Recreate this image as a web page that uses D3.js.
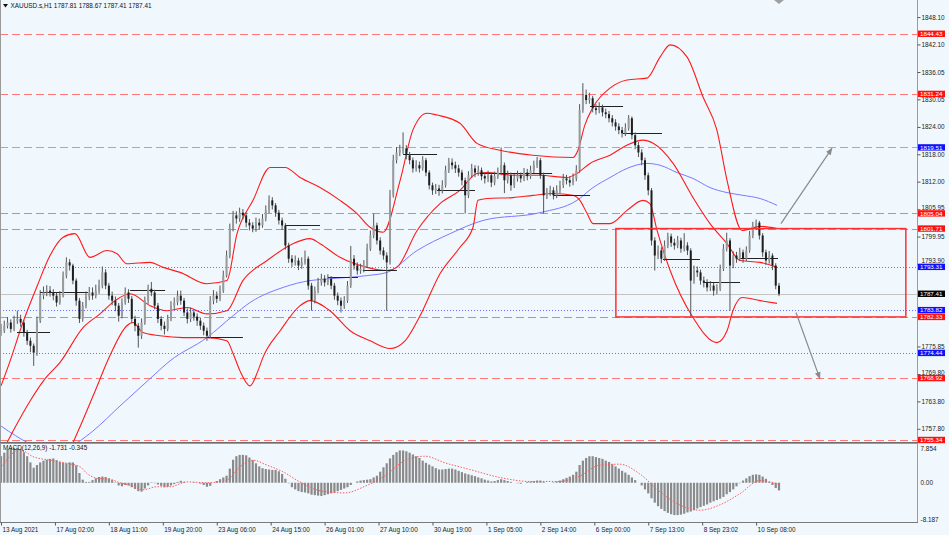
<!DOCTYPE html>
<html><head><meta charset="utf-8">
<script src="https://cdn.jsdelivr.net/npm/d3@7"></script>
<style>
html,body{margin:0;padding:0;background:#f0f8fe;}
svg{display:block;}
text{font-family:"Liberation Sans",Arial,sans-serif;}
</style></head><body>
<svg id="c" width="949" height="535"></svg>
<script>
// ---------- DATA ----------
const firstOpen = 1779.0;
const closes = [1779.3,1780.4,1781.1,1779.7,1781.5,1781.9,1781.1,1778.9,1777.1,1776.0,
1774.5,1781.5,1787.0,1787.7,1788.1,1787.7,1787.0,1785.5,1787.0,1791.4,
1794.3,1793.6,1790.3,1785.9,1781.9,1784.8,1786.8,1787.7,1787.0,1788.1,
1789.2,1792.1,1789.2,1787.0,1785.9,1784.8,1782.6,1785.5,1787.7,1786.3,
1781.9,1780.4,1778.2,1781.1,1785.9,1788.5,1787.7,1784.8,1781.9,1780.4,
1779.7,1781.9,1784.8,1785.5,1787.0,1785.9,1783.3,1781.9,1783.3,1782.4,
1781.5,1780.4,1779.3,1778.2,1785.9,1787.0,1786.3,1788.1,1791.4,1795.8,
1801.7,1804.6,1803.9,1805.2,1804.6,1803.0,1802.4,1801.7,1803.0,1802.4,
1803.9,1805.7,1807.9,1806.8,1805.2,1803.5,1802.4,1798.0,1795.1,1794.3,
1794.7,1793.6,1794.3,1795.1,1789.2,1785.9,1788.1,1789.9,1790.7,1789.9,
1790.7,1789.2,1787.0,1785.9,1784.8,1785.9,1789.2,1795.1,1793.6,1792.5,
1792.9,1793.6,1797.3,1800.2,1802.4,1799.1,1796.9,1795.8,1794.3,1809.0,
1816.7,1818.4,1818.9,1819.3,1817.8,1816.7,1814.9,1815.6,1814.9,1816.7,
1814.0,1811.2,1810.1,1810.5,1810.1,1811.2,1814.5,1816.2,1815.6,1814.9,
1814.0,1812.3,1809.0,1813.4,1814.9,1814.0,1814.5,1813.2,1812.7,1813.4,
1811.8,1813.2,1814.0,1815.6,1812.3,1813.4,1811.2,1812.7,1813.4,1812.7,
1814.0,1813.2,1814.5,1815.6,1816.7,1813.4,1809.0,1809.6,1810.1,1809.0,
1810.1,1811.2,1812.7,1812.3,1811.8,1812.7,1814.5,1827.7,1831.0,1829.9,
1830.3,1828.1,1827.7,1828.3,1827.2,1826.8,1825.9,1825.0,1824.1,1823.3,
1822.6,1823.7,1825.9,1822.2,1820.0,1818.4,1816.7,1813.4,1810.1,1799.1,
1795.8,1796.9,1795.1,1798.0,1800.0,1798.6,1798.0,1799.1,1797.3,1798.0,
1796.9,1790.3,1792.5,1792.1,1790.3,1789.9,1788.8,1789.2,1788.1,1788.5,
1792.9,1797.3,1799.1,1793.6,1795.8,1795.1,1796.5,1795.1,1796.9,1800.2,
1802.2,1803.0,1800.2,1796.5,1794.7,1795.8,1793.6,1789.2,1787.4];
const highs = [1780.8,1781.5,1782.3,1781.8,1782.6,1783.7,1782.8,1781.6,1779.5,1777.8,
1776.5,1782.4,1788.2,1789.0,1789.3,1789.1,1788.4,1787.6,1788.0,1792.3,
1795.4,1795.0,1794.0,1790.8,1786.5,1785.6,1787.9,1788.9,1788.8,1789.4,
1790.5,1793.4,1792.8,1789.8,1787.9,1786.8,1785.4,1786.4,1788.8,1788.4,
1786.9,1782.6,1781.0,1782.0,1786.8,1789.4,1790.0,1788.3,1785.4,1782.5,
1781.3,1782.8,1785.8,1786.6,1788.1,1788.1,1786.5,1784.2,1784.4,1784.0,
1783.1,1782.2,1781.1,1780.0,1786.9,1788.2,1787.9,1789.2,1792.5,1796.9,
1802.8,1805.6,1805.5,1806.3,1806.0,1805.2,1803.8,1803.1,1804.1,1803.9,
1804.9,1806.8,1809.0,1808.6,1807.3,1805.8,1804.1,1802.9,1798.6,1795.9,
1795.8,1795.3,1795.4,1796.9,1795.6,1789.8,1789.0,1790.9,1791.8,1791.5,
1791.7,1791.3,1789.8,1787.7,1786.6,1786.9,1790.2,1797.9,1795.9,1794.3,
1794.0,1794.8,1798.4,1801.3,1805.0,1803.0,1799.8,1797.6,1796.5,1810.2,
1817.9,1819.6,1820.1,1822.8,1820.0,1818.5,1817.3,1816.7,1816.4,1817.6,
1817.2,1814.5,1811.8,1811.5,1811.3,1812.3,1815.5,1817.2,1817.1,1816.4,
1815.7,1814.6,1812.9,1814.3,1815.9,1815.6,1815.5,1815.1,1814.0,1814.4,
1814.0,1814.2,1815.1,1819.5,1816.2,1814.4,1814.0,1813.7,1814.4,1814.0,
1815.0,1814.8,1815.5,1816.6,1817.4,1817.2,1814.0,1810.6,1811.1,1810.8,
1811.2,1812.2,1813.7,1813.5,1813.2,1813.8,1815.6,1829.0,1833.6,1832.2,
1831.5,1830.8,1829.0,1829.4,1828.9,1828.0,1827.5,1826.6,1825.7,1824.8,
1824.0,1824.8,1826.6,1826.3,1822.8,1820.7,1819.1,1817.3,1814.0,1810.6,
1799.8,1798.0,1797.6,1799.1,1800.8,1800.6,1799.5,1800.1,1799.7,1800.7,
1798.7,1797.4,1793.6,1793.4,1792.7,1791.2,1790.6,1790.2,1789.8,1789.5,
1793.8,1798.3,1800.8,1799.6,1796.7,1796.6,1797.5,1797.1,1797.8,1801.2,
1803.2,1803.7,1803.4,1800.7,1797.1,1796.8,1796.3,1794.1,1789.8];
const lows = [1778.2,1778.8,1779.8,1778.9,1779.2,1780.8,1780.2,1778.0,1776.2,1774.6,
1771.6,1773.8,1781.0,1786.2,1786.9,1786.8,1786.0,1784.6,1785.0,1786.6,
1790.8,1792.5,1789.5,1784.8,1781.0,1781.3,1784.2,1786.0,1786.1,1786.4,
1787.4,1788.6,1788.4,1786.1,1784.9,1783.6,1781.3,1782.0,1785.0,1785.4,
1781.0,1779.2,1775.6,1777.5,1780.6,1785.2,1786.9,1784.0,1781.0,1779.4,
1778.5,1779.2,1781.4,1784.1,1784.9,1785.0,1782.5,1780.9,1781.2,1781.5,
1780.4,1779.5,1778.3,1777.1,1777.7,1785.1,1785.4,1785.8,1787.6,1791.0,
1795.2,1801.1,1802.8,1803.2,1803.7,1802.0,1801.3,1800.9,1801.0,1801.5,
1801.9,1803.3,1805.1,1805.9,1804.3,1802.6,1801.4,1797.1,1794.2,1793.3,
1793.6,1792.6,1792.9,1793.8,1788.3,1783.7,1785.3,1787.5,1789.2,1789.0,
1789.3,1788.4,1786.1,1784.9,1783.3,1784.1,1785.4,1788.7,1792.7,1791.6,
1791.8,1792.1,1793.1,1796.8,1799.6,1798.2,1796.0,1794.9,1783.7,1793.8,
1808.5,1816.0,1817.6,1818.1,1816.9,1815.8,1814.0,1814.2,1814.0,1814.4,
1813.2,1810.3,1809.1,1809.3,1808.9,1809.4,1810.7,1813.9,1814.7,1813.9,
1813.1,1811.2,1805.0,1808.4,1812.8,1813.0,1813.3,1812.3,1811.6,1811.9,
1810.8,1811.2,1812.6,1813.4,1809.5,1811.6,1810.0,1810.6,1812.0,1811.8,
1812.1,1812.3,1812.6,1813.9,1815.0,1812.6,1805.0,1808.2,1808.9,1808.1,
1808.4,1809.5,1810.6,1811.4,1810.9,1811.2,1812.1,1814.0,1827.1,1829.0,
1829.1,1827.2,1826.7,1827.0,1826.3,1825.9,1825.0,1824.1,1823.2,1822.4,
1821.7,1822.0,1823.2,1821.3,1819.1,1817.4,1815.6,1812.4,1809.0,1798.0,
1792.5,1795.0,1794.1,1794.6,1797.4,1797.7,1797.1,1797.4,1796.4,1796.7,
1795.9,1782.2,1789.6,1791.1,1789.4,1788.8,1787.9,1788.0,1787.0,1787.3,
1788.0,1792.4,1796.7,1783.7,1793.0,1794.2,1794.6,1794.2,1794.6,1796.4,
1799.6,1801.4,1799.3,1795.5,1793.7,1794.0,1792.6,1788.4,1786.9];

// Bollinger bands & moving average: [candle index, price]
const bbUpper = [[0,1767.2],[2.8,1772.7],[6.7,1781.1],[11,1789.0],[15,1795.8],[19,1799.8],[22.6,1800.6],[27.2,1795.4],[32.4,1796.9],[35.5,1796.2],[38.5,1794.0],[45.6,1794.3],[49.6,1793.2],[54.8,1792.1],[63,1789.6],[69.1,1790.3],[72.2,1800.6],[77.1,1807.9],[82.3,1815.1],[86.9,1815.1],[91.5,1812.9],[97.6,1810.7],[103.7,1807.9],[108.9,1805.0],[112.9,1802.0],[116.9,1800.9],[122.1,1812.3],[126,1823.3],[130.3,1827.0],[133.4,1826.6],[140.4,1824.8],[145.6,1820.4],[152.6,1818.9],[162.7,1817.8],[175,1817.3],[176.5,1818.9],[178.6,1824.4],[181.1,1828.3],[186.3,1832.5],[191.5,1834.3],[197.6,1834.7],[201.6,1839.3],[204.7,1842.0],[209.9,1839.3],[214.8,1830.5],[219,1823.3],[222.1,1812.3],[226.7,1801.3],[232.2,1802.2],[237.4,1801.7]];
const bbMiddle = [[1.8,1754.7],[3.7,1757.3],[8.9,1763.9],[13.5,1768.8],[18,1772.3],[25.1,1780.0],[30.3,1783.0],[34.9,1785.9],[39.5,1787.4],[45.6,1784.8],[50.8,1783.7],[56.9,1784.4],[63,1783.0],[69.1,1783.7],[74,1790.3],[81.4,1794.7],[89.3,1798.4],[94.5,1799.5],[97.6,1798.4],[103.7,1795.4],[112,1793.2],[118.1,1792.5],[121.1,1793.2],[127.3,1801.3],[134.3,1807.2],[140.4,1810.1],[145.6,1813.8],[148.7,1814.0],[156.6,1813.4],[164.9,1813.4],[173.1,1812.9],[176.2,1813.8],[180.2,1816.0],[186.3,1817.8],[191.5,1820.0],[196.4,1821.1],[199.5,1820.4],[205.6,1816.0],[211.7,1808.5],[216.9,1802.8],[222.1,1798.4],[226.1,1794.7],[232.2,1794.3],[237.4,1793.2]];
const bbLower = [[22,1754.7],[23.6,1757.3],[28.8,1766.1],[33.3,1773.8],[38.5,1780.4],[40.4,1781.1],[43.4,1778.9],[48.6,1778.2],[55.7,1777.8],[63,1777.8],[69.1,1777.1],[71,1774.3],[73.1,1770.5],[76.2,1767.2],[78.6,1770.5],[80.1,1773.4],[85.4,1779.3],[91.5,1784.8],[94.5,1785.9],[100.6,1783.7],[106.8,1779.3],[112.9,1777.1],[119,1775.4],[123.6,1777.1],[128.2,1782.6],[134.3,1791.8],[140.4,1797.6],[144.4,1802.0],[145.9,1807.9],[148.7,1808.3],[156.6,1808.5],[162.7,1809.0],[168.9,1809.4],[175,1809.0],[177.1,1807.9],[179.3,1805.0],[181.1,1802.8],[186.3,1802.8],[191.5,1805.7],[196.4,1807.9],[198.5,1807.2],[200.7,1801.3],[204.7,1792.5],[211.7,1782.2],[219,1776.7],[222.1,1779.3],[223.9,1783.7],[226.7,1786.6],[232.2,1785.9],[237.4,1785.3]];
const maBlue = [[0,1758.4],[8.9,1754.5],[15,1752.9],[23.6,1754.9],[28.1,1757.3],[36.4,1762.8],[45.6,1768.8],[51.7,1772.7],[63,1777.8],[71,1782.6],[76.2,1785.5],[86.3,1788.8],[94.5,1790.3],[100.6,1790.7],[112,1791.4],[118.1,1792.1],[127.3,1796.9],[137.4,1800.6],[147.5,1803.5],[164.9,1805.2],[176.2,1807.9],[181.1,1810.7],[186.3,1812.9],[191.5,1814.9],[197.6,1816.0],[201.6,1815.6],[206.8,1814.0],[211.7,1812.7],[216.9,1810.7],[222.1,1809.6],[227,1809.0],[232.2,1808.3],[237.4,1806.8]];

// daily level segments
const pivotStart = [4.9,11.9,39.5,63,86.9,100,110.7,123,133.4,146.5,168.9,180.2,190.3,202.5,214.8,226.1];
const pivotEnd   = [15,26.6,50.2,74,97.6,109.2,121.1,133.4,145,168.6,180.2,190.3,202.2,213.8,226.1,237.7];
const pivotLevel = [1779.1,1787.7,1788.3,1778.0,1802.4,1791.0,1792.7,1818.0,1810.1,1814.0,1809.0,1828.5,1822.6,1795.1,1789.9,1795.3];

// MACD
const macdHist = [6.0,6.8,7.5,7.8,7.9,7.9,7.6,6.9,6.0,4.6,
3.4,4.0,4.6,5.0,5.2,5.4,5.5,5.1,4.7,4.5,
4.4,4.6,4.6,3.9,2.2,0.7,0.2,0.2,0.6,1.0,
1.3,1.4,1.3,1.0,0.6,0.1,-0.6,-0.8,-0.5,-0.6,
-1.0,-1.4,-1.9,-2.0,-1.3,-0.6,0.1,-0.1,-0.4,-0.7,
-1.0,-0.9,-0.6,-0.3,0.2,0.45,0.2,0.0,0.0,0.1,
0.0,-0.2,-0.5,-0.9,-0.7,0.0,0.4,0.8,1.2,1.6,
3.2,5.2,6.0,6.3,6.3,6.2,5.7,5.1,4.4,3.7,
3.3,3.1,3.0,2.9,2.9,2.6,2.0,0.9,-0.1,-1.0,
-1.5,-1.9,-2.1,-2.2,-2.4,-2.7,-2.8,-2.9,-3.0,-2.8,
-2.6,-2.4,-2.2,-1.9,-1.6,-1.3,-1.0,-0.5,0.0,0.3,
0.5,0.6,0.7,0.8,1.2,1.6,2.5,3.5,4.4,5.5,
6.3,6.9,7.3,7.3,7.1,6.8,6.4,6.0,5.6,5.0,
4.5,4.1,3.7,3.3,3.0,3.0,3.1,3.2,3.2,3.0,
2.7,2.4,2.1,1.9,1.7,1.5,1.2,1.0,0.7,0.5,
0.3,0.4,0.6,0.8,0.6,0.4,0.2,0.0,-0.1,-0.2,
0.0,0.2,0.3,0.4,0.5,0.5,0.2,0.0,0.0,0.1,
0.3,0.5,0.8,1.1,1.4,1.8,2.5,4.0,5.0,5.6,
6.0,6.0,5.8,5.6,5.4,5.0,4.7,4.2,3.7,3.2,
2.7,2.3,1.8,1.2,0.6,0.0,-0.6,-1.5,-2.4,-3.5,
-4.5,-5.3,-5.9,-6.4,-6.8,-7.1,-7.3,-7.3,-7.2,-7.0,
-6.7,-6.5,-6.2,-5.8,-5.5,-5.2,-4.9,-4.5,-4.2,-3.9,
-3.6,-3.2,-2.6,-2.1,-1.5,-0.8,-0.1,0.5,1.0,1.5,
1.8,1.9,1.8,1.4,0.9,0.2,-0.5,-1.2,-1.73];
const macdSignal = [[0,3.3],[5.8,7.5],[9.8,5.9],[15,5.1],[20.2,4.4],[24.2,3.6],[26.3,2.1],[29.4,1.0],[33.3,0.8],[36.4,0],[40.4,-0.75],[43.4,-1.6],[47.7,-0.9],[51.7,-0.9],[56.9,0.2],[63,0],[69.1,0.6],[73.1,3.6],[77.1,5.1],[81.3,4.0],[86.2,2.5],[91.4,0.2],[97.6,-1.8],[105.2,-2.3],[111.3,-0.8],[117.4,1.5],[123.5,5.0],[129.7,6.0],[135.8,4.5],[143.4,3.0],[152.6,1.2],[161.8,0.3],[170.9,0.3],[177,1.5],[183.2,4.0],[189.3,4.2],[195.4,2.0],[201.5,-2.0],[207.6,-5.0],[213.8,-6.2],[219.9,-5.0],[226,-2.5],[232.1,0.5],[238,-0.345]];

// horizontal levels
const redLevels = [1844.43,1831.24,1805.04,1801.71,1782.33,1768.92,1755.34];
const blueDashLevels = [1819.51];
const blueDotLevels = [1793.31,1783.82,1774.44];
const lastPrice = 1787.41;

// axes (ticks fully hidden behind level boxes in the reference are left out)
const priceTicks = [1848.10,1842.10,1836.05,1830.05,1824.00,1818.00,1812.00,1805.95,1799.95,1793.90,1775.85,1769.80,1763.80,1757.80];
const macdTicks = [7.854,0,-8.187];
const macdTickLabels = ["7.854","0.00","-8.187"];
const timeTickPos = [0,16.5,33,49.5,66,82.5,99,115.5,132,148.5,165,181.5,198,214.5,231];
const timeTickLabels = ["13 Aug 2021","17 Aug 02:00","18 Aug 11:00","19 Aug 20:00","23 Aug 06:00","24 Aug 15:00","26 Aug 01:00","27 Aug 10:00","30 Aug 19:00","1 Sep 05:00","2 Sep 14:00","6 Sep 00:00","7 Sep 13:00","8 Sep 23:02","10 Sep 08:00"];

// drawn objects
const rectC = [188.1,276.8], rectP = [1801.71,1782.33];
const arrowUp = [[238.6,1802.8],[254.2,1819.3]];
const arrowDown = [[243.2,1783.3],[250.5,1768.8]];
const titleText = "XAUUSD.s,H1  1787.81 1788.67 1787.41 1787.41";
const macdTitle = "MACD(12,26,9) -1.731 -0.345";

// ---------- DRAW ----------
const W = 949, H = 535, PR = 917, MB = 442, MT = 444, MBOT = 522;
const FS = 6.4, BOXH = 6.4;
const svg = d3.select("#c");
svg.append("rect").attr("width",W).attr("height",H).attr("fill","#f0f8fe");

const x = d3.scaleLinear().domain([0,238]).range([1,779]);
const y = d3.scaleLinear().domain([1754.9,1851.84]).range([MB,0]);
const ym = d3.scaleLinear().domain([-8.187,7.854]).range([519,448]);

const defs = svg.append("defs");
defs.append("clipPath").attr("id","cm").append("rect").attr("x",0).attr("y",0).attr("width",PR).attr("height",MB);
defs.append("clipPath").attr("id","cd").append("rect").attr("x",0).attr("y",MT).attr("width",PR).attr("height",MBOT-MT);
const mk = defs.append("marker").attr("id","ah").attr("viewBox","0 0 10 10").attr("refX",9).attr("refY",5)
  .attr("markerWidth",6).attr("markerHeight",6).attr("orient","auto");
mk.append("path").attr("d","M0,1 L10,5 L0,9 Z").attr("fill","#8a8a8a");

const gm = svg.append("g").attr("clip-path","url(#cm)");
const py = v => Math.round(y(v))+0.5;

// levels
gm.selectAll(".rl").data(redLevels).join("line").attr("x1",0).attr("x2",PR)
  .attr("y1",py).attr("y2",py)
  .attr("stroke","#ff7676").attr("stroke-width",1).attr("stroke-dasharray","8,4");
gm.selectAll(".bl").data(blueDashLevels).join("line").attr("x1",0).attr("x2",PR)
  .attr("y1",py).attr("y2",py)
  .attr("stroke","#9ea2ff").attr("stroke-width",1).attr("stroke-dasharray","8,4");
gm.selectAll(".bd").data(blueDotLevels).join("line").attr("x1",0).attr("x2",PR)
  .attr("y1",py).attr("y2",py)
  .attr("stroke","#7070ff").attr("stroke-width",1).attr("stroke-dasharray","1,2");
gm.append("line").attr("x1",0).attr("x2",PR).attr("y1",py(lastPrice)).attr("y2",py(lastPrice))
  .attr("stroke","#c4c4c4").attr("stroke-width",1);

// bands
const ln = d3.line().x(d=>x(d[0])).y(d=>y(d[1])).curve(d3.curveMonotoneX);
gm.append("path").attr("d",ln(maBlue)).attr("fill","none").attr("stroke","#7a7aff").attr("stroke-width",1);
[bbUpper,bbMiddle,bbLower].forEach(b=>{
  gm.append("path").attr("d",ln(b)).attr("fill","none").attr("stroke","#ff1a1a").attr("stroke-width",1.1);
});

// pivot segments
gm.selectAll(".pv").data(pivotLevel).join("line")
  .attr("x1",(d,i)=>x(pivotStart[i])).attr("x2",(d,i)=>x(pivotEnd[i]))
  .attr("y1",py).attr("y2",py)
  .attr("stroke","#222").attr("stroke-width",1);

// candles
const candles = closes.map((c,i)=>({i, o: i===0?firstOpen:closes[i-1], c, h:highs[i], l:lows[i]}));
const gc = gm.append("g");
gc.selectAll(".wk").data(candles).join("line")
  .attr("x1",d=>x(d.i)).attr("x2",d=>x(d.i)).attr("y1",d=>y(d.h)).attr("y2",d=>y(d.l))
  .attr("stroke","#555").attr("stroke-width",1);
gc.selectAll(".bd").data(candles).join("rect")
  .attr("x",d=>x(d.i)-1).attr("width",2)
  .attr("y",d=>y(Math.max(d.o,d.c))).attr("height",d=>Math.max(0.8,Math.abs(y(d.o)-y(d.c))))
  .attr("fill",d=>d.c>=d.o?"#9a9a9a":"#1e1e1e");

// rectangle
gm.append("rect").attr("x",x(rectC[0])).attr("y",y(rectP[0]))
  .attr("width",x(rectC[1])-x(rectC[0])).attr("height",y(rectP[1])-y(rectP[0]))
  .attr("fill","none").attr("stroke","#ff3030").attr("stroke-width",1.5);

// arrows
[arrowUp,arrowDown].forEach(a=>{
  gm.append("line").attr("x1",x(a[0][0])).attr("y1",y(a[0][1])).attr("x2",x(a[1][0])).attr("y2",y(a[1][1]))
    .attr("stroke","#8a8a8a").attr("stroke-width",1.2).attr("marker-end","url(#ah)");
});

// MACD
const gd = svg.append("g").attr("clip-path","url(#cd)");
gd.selectAll(".mh").data(macdHist).join("rect")
  .attr("x",(d,i)=>x(i)-1.1).attr("width",2.2)
  .attr("y",d=>Math.min(ym(d),ym(0))).attr("height",d=>Math.abs(ym(d)-ym(0)))
  .attr("fill","#8a8a8a");
const lm = d3.line().x(d=>x(d[0])).y(d=>ym(d[1])).curve(d3.curveMonotoneX);
gd.append("path").attr("d",lm(macdSignal)).attr("fill","none").attr("stroke","#ff5a5a").attr("stroke-width",1).attr("stroke-dasharray","1.5,1.5");

// frames
const fr = svg.append("g").attr("stroke","#9a9a9a").attr("fill","none");
fr.append("line").attr("x1",0.5).attr("x2",0.5).attr("y1",0).attr("y2",MBOT);
fr.append("line").attr("x1",PR+0.5).attr("x2",PR+0.5).attr("y1",0).attr("y2",MBOT);
fr.append("line").attr("x1",0).attr("x2",PR+1).attr("y1",MB+0.5).attr("y2",MB+0.5).attr("stroke","#6e6e6e");
fr.append("line").attr("x1",0).attr("x2",PR+1).attr("y1",MT-0.5).attr("y2",MT-0.5);
fr.append("line").attr("x1",0).attr("x2",PR+1).attr("y1",MBOT+0.5).attr("y2",MBOT+0.5).attr("stroke","#7a7a7a");

// level boxes (positions needed to keep axis labels clear of them)
const boxes = [];
redLevels.forEach(v=>boxes.push({v,c:"#ff1010"}));
blueDashLevels.forEach(v=>boxes.push({v,c:"#1010ff"}));
blueDotLevels.forEach(v=>boxes.push({v,c:"#1010ff"}));
boxes.push({v:lastPrice,c:"#000"});

// price axis
const ay = svg.append("g").attr("transform",`translate(${PR+0.5},0)`)
  .call(d3.axisRight(y).tickValues(priceTicks).tickFormat(d3.format(".2f")).tickSize(3).tickPadding(1));
ay.select(".domain").remove();
ay.selectAll("line").attr("stroke","#555");
ay.selectAll("text").attr("font-size",FS).attr("fill","#222").attr("font-family","Liberation Sans, Arial, sans-serif")
  .attr("dy", d=>{
    // lift a label that would run into a level box just below it (box drawn on top in the reference)
    const ty = y(d);
    let shift = 0;
    boxes.forEach(b=>{
      const top = y(b.v) - BOXH/2;
      if (top > ty - 1 && top < ty + 2.8) shift = Math.min(shift, (top - 0.6) - (ty + 2.3));
    });
    return (0.32*FS + shift) + "px";
  });

// macd axis
const am = svg.append("g").attr("transform",`translate(${PR+0.5},0)`)
  .call(d3.axisRight(ym).tickValues(macdTicks).tickFormat((d,i)=>macdTickLabels[i]).tickSize(0).tickPadding(3));
am.select(".domain").remove();
am.selectAll("text").attr("font-size",FS).attr("fill","#222").attr("font-family","Liberation Sans, Arial, sans-serif");

// time axis
const ax = svg.append("g").attr("transform",`translate(0,${MBOT+0.5})`)
  .call(d3.axisBottom(x).tickValues(timeTickPos).tickFormat((d,i)=>timeTickLabels[i]).tickSize(3).tickPadding(2));
ax.select(".domain").remove();
ax.selectAll("line").attr("stroke","#555");
ax.selectAll("text").attr("font-size",FS).attr("fill","#222").attr("text-anchor","start").attr("dx",1)
  .attr("font-family","Liberation Sans, Arial, sans-serif");

const gb = svg.append("g");
boxes.forEach(b=>{
  const yy = y(b.v);
  gb.append("rect").attr("x",PR+1).attr("y",yy-BOXH/2).attr("width",27).attr("height",BOXH).attr("fill",b.c);
  gb.append("text").attr("x",PR+3).attr("y",yy).attr("dy","0.35em").attr("font-size",6.2).attr("fill","#fff").text(b.v.toFixed(2));
});

// titles
svg.append("path").attr("d","M3,4 L8,4 L5.5,7.5 Z").attr("fill","#111");
svg.append("text").attr("x",10.5).attr("y",6).attr("dy","0.35em").attr("font-size",FS).attr("fill","#111").text(titleText);
svg.append("text").attr("x",3).attr("y",447.5).attr("dy","0.35em").attr("font-size",FS).attr("fill","#111").text(macdTitle);
// chart shift marker
svg.append("path").attr("d","M774,0 L784,0 L779,4 Z").attr("fill","#a0a0a0");
</script>
</body></html>
